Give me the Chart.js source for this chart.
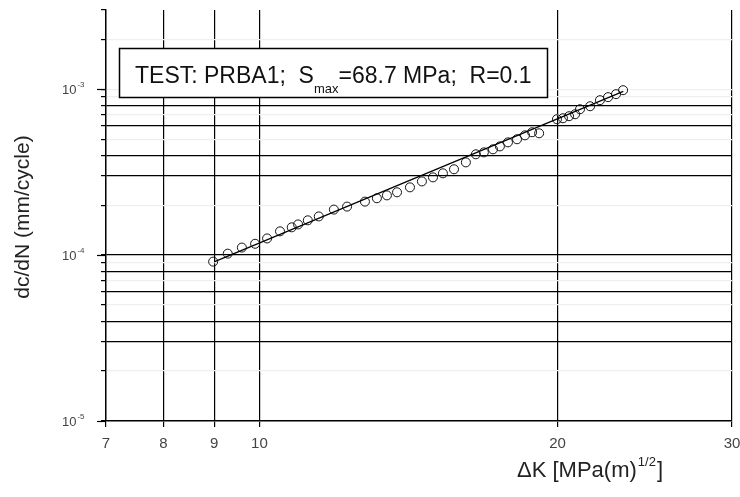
<!DOCTYPE html>
<html>
<head>
<meta charset="utf-8">
<script src="https://cdn.jsdelivr.net/npm/chart.js@4/dist/chart.umd.min.js"></script>
<style>
  html, body { margin: 0; padding: 0; background: #fff; }
  #wrap { width: 740px; height: 497px; }
</style>
</head>
<body>
<div id="wrap"><canvas id="crack-chart" width="740" height="497"></canvas></div>
<script>
// crack growth rate vs. stress intensity range (log-log)
const deltaK = [8.98, 9.29, 9.60, 9.90, 10.18, 10.49, 10.78, 10.94, 11.19, 11.48,
    11.89, 12.26, 12.78, 13.14, 13.45, 13.77, 14.19, 14.59, 14.97, 15.32,
    15.72, 16.16, 16.54, 16.85, 17.21, 17.49, 17.82, 18.20, 18.54, 18.85,
    19.16, 19.97, 20.25, 20.54, 20.83, 21.07, 21.57, 22.07, 22.49, 22.91, 23.29];
const crackRate = [9.13e-5, 1.02e-4, 1.11e-4, 1.17e-4, 1.26e-4, 1.39e-4, 1.47e-4, 1.53e-4, 1.62e-4, 1.71e-4,
    1.88e-4, 1.96e-4, 2.10e-4, 2.20e-4, 2.29e-4, 2.39e-4, 2.56e-4, 2.78e-4, 2.94e-4, 3.11e-4,
    3.29e-4, 3.62e-4, 4.05e-4, 4.16e-4, 4.34e-4, 4.52e-4, 4.78e-4, 4.99e-4, 5.27e-4, 5.50e-4,
    5.42e-4, 6.59e-4, 6.68e-4, 6.87e-4, 7.06e-4, 7.57e-4, 7.89e-4, 8.58e-4, 8.95e-4, 9.33e-4, 9.86e-4];

// Paris-law fit end points
const fitK = [9.0, 23.3];
const fitRate = [9.1e-5, 9.7e-4];

const xTicks = [7, 8, 9, 10, 20, 30];
const yPowers = [-5, -4, -3];
const yMin = 1e-5, yMax = 3e-3;

// horizontal rules that are drawn solid
const solidRules = [3e-5, 4e-5, 6e-5, 8e-5, 1e-4, 3e-4, 4e-4, 6e-4, 8e-4];

const FONT = '"Liberation Sans", Arial, sans-serif';

function near(a, b) { return Math.abs(a - b) / b < 1e-6; }

const decorations = {
    id: "decorations",
    afterDraw(chart) {
        const ctx = chart.ctx;
        const ys = chart.scales.y;
        const area = chart.chartArea;
        ctx.save();

        // longer ticks at the decades
        ctx.strokeStyle = "#000";
        ctx.lineWidth = 1.2;
        yPowers.forEach(p => {
            const y = Math.round(ys.getPixelForValue(Math.pow(10, p))) + 0.5;
            ctx.beginPath();
            ctx.moveTo(area.left - 9, y);
            ctx.lineTo(area.left, y);
            ctx.stroke();
        });

        // decade labels with superscript exponents
        ctx.fillStyle = "#444";
        ctx.textBaseline = "alphabetic";
        yPowers.forEach(p => {
            const y = ys.getPixelForValue(Math.pow(10, p));
            ctx.font = "13px " + FONT;
            ctx.textAlign = "left";
            ctx.fillText("10", 62, y + 5);
            const w = ctx.measureText("10").width;
            ctx.font = "8px " + FONT;
            ctx.fillText("-" + (-p), 62 + w + 1, y - 2);
        });

        // y title
        ctx.fillStyle = "#222";
        ctx.save();
        ctx.translate(29, 217);
        ctx.rotate(-Math.PI / 2);
        ctx.font = "21px " + FONT;
        ctx.textAlign = "center";
        ctx.fillText("dc/dN (mm/cycle)", 0, 0);
        ctx.restore();

        // x title: ΔK [MPa(m)^1/2]
        ctx.textAlign = "left";
        let x = 517;
        const base = 477;
        ctx.font = "22px " + FONT;
        ctx.fillText("\u0394K [MPa(m)", x, base);
        x += ctx.measureText("\u0394K [MPa(m)").width + 1;
        ctx.font = "13px " + FONT;
        ctx.fillText("1/2", x, base - 11);
        x += ctx.measureText("1/2").width + 1;
        ctx.font = "22px " + FONT;
        ctx.fillText("]", x, base);

        // test description box
        ctx.fillStyle = "#fff";
        ctx.fillRect(119, 48, 428, 49);
        ctx.strokeStyle = "#000";
        ctx.lineWidth = 1.5;
        ctx.strokeRect(119.5, 48.5, 428, 49);
        ctx.fillStyle = "#111";
        x = 135;
        const tb = 83;
        ctx.font = "23px " + FONT;
        ctx.fillText("TEST: PRBA1;  S", x, tb);
        x += ctx.measureText("TEST: PRBA1;  S").width;
        ctx.font = "13px " + FONT;
        ctx.fillText("max", x, tb + 10);
        x += ctx.measureText("max").width;
        ctx.font = "23px " + FONT;
        ctx.fillText("=68.7 MPa;  R=0.1", x, tb);

        ctx.restore();
    }
};

new Chart(document.getElementById("crack-chart"), {
    type: "scatter",
    data: {
        datasets: [
            {
                label: "fit",
                data: fitK.map((k, i) => ({ x: k, y: fitRate[i] })),
                showLine: true,
                borderColor: "#000",
                borderWidth: 1.2,
                pointRadius: 0,
            },
            {
                label: "PRBA1",
                data: deltaK.map((k, i) => ({ x: k, y: crackRate[i] })),
                borderColor: "#111",
                backgroundColor: "rgba(0,0,0,0)",
                borderWidth: 1,
                pointRadius: 4.5,
            },
        ],
    },
    plugins: [decorations],
    options: {
        responsive: false,
        animation: false,
        layout: { padding: { left: 0, right: 0, top: 10, bottom: 0 } },
        plugins: {
            legend: { display: false },
            tooltip: { enabled: false },
        },
        scales: {
            x: {
                type: "logarithmic",
                min: 7,
                max: 30,
                afterBuildTicks: (scale) => {
                    scale.ticks = xTicks.map(v => ({ value: v }));
                },
                afterFit: (scale) => {
                    scale.height = 76;
                    scale.paddingRight = 8;
                },
                grid: {
                    color: "#000",
                    lineWidth: 1.2,
                    tickLength: 6,
                    tickColor: "#000",
                },
                border: { color: "#000", width: 1.4 },
                ticks: {
                    autoSkip: false,
                    maxRotation: 0,
                    padding: 8,
                    color: "#444",
                    font: { family: FONT, size: 15 },
                    callback: (v) => String(v),
                },
            },
            y: {
                type: "logarithmic",
                min: yMin,
                max: yMax,
                afterBuildTicks: (scale) => {
                    const t = [];
                    for (let e = -5; e <= -3; e++) {
                        for (let m = 1; m <= 9; m++) {
                            const v = m * Math.pow(10, e);
                            if (v <= yMax * 1.0001) t.push({ value: v });
                        }
                    }
                    scale.ticks = t;
                },
                afterFit: (scale) => { scale.width = 106; },
                grid: {
                    color: (c) => {
                        const v = c.tick ? c.tick.value : 0;
                        if (solidRules.some(s => near(v, s))) return "#000";
                        if (near(v, yMax)) return "rgba(0,0,0,0)";
                        return "#efefef";
                    },
                    lineWidth: 1.2,
                    tickLength: 5,
                    tickColor: "#000",
                },
                border: { color: "#000", width: 1.4 },
                ticks: { display: false },
            },
        },
    },
});
</script>
</body>
</html>
